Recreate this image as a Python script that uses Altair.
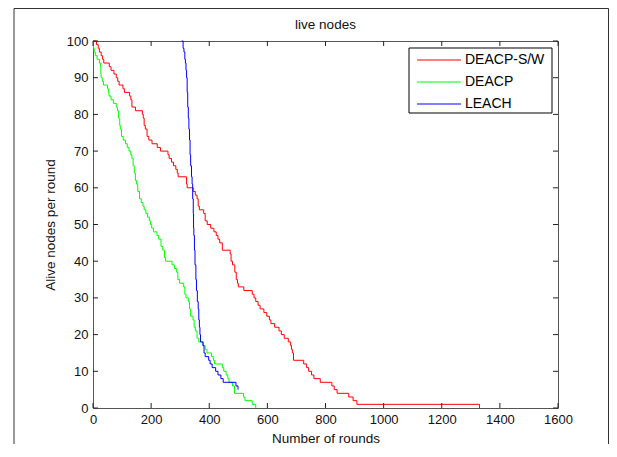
import altair as alt
import pandas as pd

FONT = "Liberation Sans"

series_names = ["DEACP-S/W", "DEACP", "LEACH"]
series_colors = ["#ff0000", "#00ff00", "#0000ff"]

# DEACP-S/W (red) - step points (round, alive nodes)
red_rounds = [0, 12, 18, 22, 28, 33, 37, 56, 62, 72, 80, 85, 90, 103, 108, 126, 130, 134, 146,
              170, 173, 176, 180, 186, 192, 203, 221, 232, 258, 262, 270, 277, 285, 290, 293,
              322, 324, 345, 352, 358, 362, 366, 381, 386, 393, 405, 416, 424, 430, 436, 445,
              472, 475, 480, 488, 493, 497, 500, 519, 548, 554, 560, 568, 575, 588, 598, 607,
              612, 625, 640, 648, 658, 672, 680, 683, 686, 690, 725, 735, 742, 752, 760, 782,
              822, 830, 840, 880, 895, 908, 1330]
red_alive = [100, 99, 98, 97, 96, 95, 94, 93, 92, 91, 90, 89, 88, 87, 86, 85, 84, 82, 81,
             80, 79, 77, 76, 74, 73, 72, 71, 70, 69, 68, 67, 66, 65, 64, 63,
             61, 60, 59, 58, 57, 55, 54, 53, 51, 50, 49, 48, 47, 46, 45, 43,
             42, 40, 39, 37, 35, 34, 33, 32, 31, 30, 29, 28, 27, 26, 25, 24,
             23, 22, 21, 20, 19, 18, 17, 16, 15, 13, 12, 11, 10, 9, 8, 7,
             6, 5, 4, 3, 2, 1, 0]

# DEACP (green)
green_rounds = [0, 2, 4, 8, 14, 22, 26, 27, 28, 32, 36, 50, 53, 55, 62, 70, 80, 84, 88, 92, 94,
                98, 104, 112, 118, 124, 130, 134, 138, 142, 146, 150, 154, 160, 166, 172, 176,
                182, 188, 194, 198, 202, 208, 220, 226, 234, 240, 246, 250, 272, 280, 288, 292,
                298, 312, 316, 320, 328, 332, 336, 344, 348, 352, 358, 364, 380, 386, 392, 408,
                414, 418, 445, 450, 458, 464, 468, 480, 487, 518, 523, 548, 560]
green_alive = [100, 98, 97, 96, 95, 94, 93, 91, 90, 89, 88, 87, 86, 85, 84, 83, 82, 81, 79, 77, 76,
               74, 73, 72, 71, 70, 69, 68, 66, 64, 62, 61, 59, 57, 56, 55, 54,
               53, 52, 51, 50, 49, 48, 47, 46, 44, 43, 41, 40, 39, 38, 37, 35,
               34, 33, 31, 30, 29, 27, 25, 24, 22, 21, 19, 18, 17, 16, 15, 14,
               13, 12, 11, 10, 9, 8, 7, 6, 4, 3, 2, 1, 0]

# LEACH (blue)
blue_rounds = [305, 310, 313, 316, 318, 320, 322, 324, 326, 328, 330, 332, 334, 336, 339, 341,
               343, 345, 346, 347, 349, 351, 354, 356, 359, 362, 364, 366, 368, 370, 378, 382,
               386, 398, 403, 410, 422, 430, 440, 448, 492, 499]
blue_alive = [100, 98, 97, 95, 94, 92, 90, 86, 82, 79, 76, 73, 69, 66, 63, 61,
              57, 53, 49, 47, 43, 39, 35, 32, 29, 27, 24, 22, 20, 18, 17, 15,
              14, 13, 12, 11, 10, 9, 8, 7, 6, 5]

x_ticks = [0, 200, 400, 600, 800, 1000, 1200, 1400, 1600]
y_ticks = [0, 10, 20, 30, 40, 50, 60, 70, 80, 90, 100]

rows = []
for name, rs, al in [(series_names[0], red_rounds, red_alive),
                     (series_names[1], green_rounds, green_alive),
                     (series_names[2], blue_rounds, blue_alive)]:
    for r, a in zip(rs, al):
        rows.append({"series": name, "round": r, "alive": a})
df = pd.DataFrame(rows)

W, H = 465, 367

xscale = alt.Scale(domain=[0, 1600], nice=False, zero=False)
yscale = alt.Scale(domain=[0, 100], nice=False, zero=False)
cscale = alt.Scale(domain=series_names, range=series_colors)

x_axis = alt.Axis(values=x_ticks, format="d", labelFont=FONT, labelFontSize=13, labelColor="#111",
                  labelPadding=5, ticks=False, tickSize=0, domain=False, grid=False,
                  labelFlush=False, labelOverlap=False,
                  title="Number of rounds", titleFont=FONT, titleFontSize=13.5,
                  titleFontWeight="normal", titleColor="#111", titleY=34,
                  titleBaseline="alphabetic")
y_axis = alt.Axis(values=y_ticks, format="d", labelFont=FONT, labelFontSize=13, labelColor="#111",
                  labelPadding=5, ticks=False, tickSize=0, domain=False, grid=False,
                  labelFlush=False, labelOverlap=False,
                  title="Alive nodes per round", titleFont=FONT, titleFontSize=13.5,
                  titleFontWeight="normal", titleColor="#111", titleX=-42.5, titleY=H / 2,
                  titleAngle=270, titleBaseline="middle", titleAlign="center")

frame = alt.Chart(pd.DataFrame({"a": [0]})).mark_rect(
    filled=False, stroke="#333", strokeWidth=1
).encode(x=alt.value(-79), x2=alt.value(515.5), y=alt.value(-32.5), y2=alt.value(430))

lines = alt.Chart(df).mark_line(strokeWidth=1, interpolate="step-after").encode(
    x=alt.X("round:Q", scale=xscale, axis=x_axis),
    y=alt.Y("alive:Q", scale=yscale, axis=y_axis),
    color=alt.Color("series:N", scale=cscale, legend=None),
)

xt = pd.DataFrame({"t": x_ticks})
yt = pd.DataFrame({"t": y_ticks})
tick_color = "#222"
bottom_ticks = alt.Chart(xt).mark_rule(color=tick_color, strokeWidth=1).encode(
    x=alt.X("t:Q", scale=xscale, axis=x_axis), y=alt.value(H), y2=alt.value(H - 5))
top_ticks = alt.Chart(xt).mark_rule(color=tick_color, strokeWidth=1).encode(
    x=alt.X("t:Q", scale=xscale, axis=x_axis), y=alt.value(0), y2=alt.value(5))
left_ticks = alt.Chart(yt).mark_rule(color=tick_color, strokeWidth=1).encode(
    y=alt.Y("t:Q", scale=yscale, axis=None), x=alt.value(0), x2=alt.value(5))
right_ticks = alt.Chart(yt).mark_rule(color=tick_color, strokeWidth=1).encode(
    y=alt.Y("t:Q", scale=yscale, axis=None), x=alt.value(W), x2=alt.value(W - 5))

leg_df = pd.DataFrame({"series": series_names})
leg_y = alt.Y("series:N", scale=alt.Scale(type="point", domain=series_names, range=[19, 63], padding=0),
              axis=None)
leg_box = alt.Chart(pd.DataFrame({"a": [0]})).mark_rect(
    fill="white", stroke="black", strokeWidth=1
).encode(x=alt.value(316), x2=alt.value(459), y=alt.value(7), y2=alt.value(72))
leg_lines = alt.Chart(leg_df).mark_rule(strokeWidth=1).encode(
    x=alt.value(324), x2=alt.value(368), y=leg_y,
    color=alt.Color("series:N", scale=cscale, legend=None))
leg_text = alt.Chart(leg_df).mark_text(
    align="left", baseline="middle", font=FONT, fontSize=14, color="black"
).encode(x=alt.value(372), y=leg_y, text="series:N")

chart = alt.layer(
    frame, lines, bottom_ticks, top_ticks, left_ticks, right_ticks, leg_box, leg_lines, leg_text
).resolve_scale(y="independent").properties(
    width=W, height=H,
    autosize=alt.AutoSizeParams(type="none"),
    padding={"left": 85, "top": 33, "right": 51, "bottom": 36},
    title=alt.Title("live nodes", font=FONT, fontSize=13.5, fontWeight="normal", color="#111",
                    offset=11, dy=45, baseline="alphabetic", anchor="middle", frame="group"),
).configure(background="white").configure_view(stroke="#555", strokeWidth=1)

chart.save("out.html", embed_options={"renderer": "svg", "actions": False})
